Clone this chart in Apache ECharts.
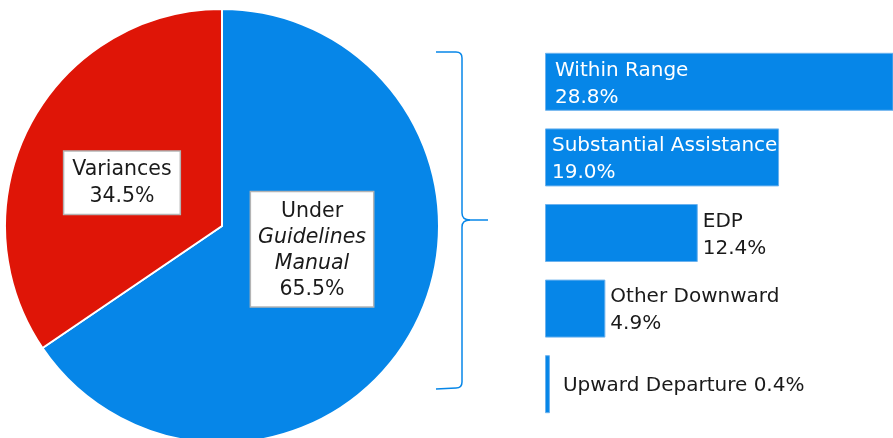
<!DOCTYPE html>
<html><head><meta charset="utf-8">
<script src="https://cdn.jsdelivr.net/npm/echarts@6/dist/echarts.min.js"></script>
<style>html,body{margin:0;padding:0;background:#fff;}#c{width:893px;height:438px;}</style>
</head><body><div id="c"></div>
<script>
const pieNames = ['Under Guidelines Manual', 'Variances'];
const pieValues = [65.5, 34.5];
const barCategories = ['Within Range', 'Substantial Assistance', 'EDP', 'Other Downward', 'Upward Departure'];
const barValues = [28.8, 19.0, 12.4, 4.9, 0.4];

const FONT = 'DejaVu Sans';
const FS = 20;
const BLUE = '#0686e8', RED = '#df1507';

const chart = echarts.init(document.getElementById('c'), null, {renderer: 'canvas'});

const boxLabel = {
  show: true, position: 'inside', color: '#1a1a1a', fontFamily: FONT, fontSize: 20.5,
  backgroundColor: '#fff', borderColor: '#b4b4b4', borderWidth: 1.5,
  align: 'center'
};

const pieData = [
  {name: pieNames[0], value: pieValues[0], itemStyle: {color: BLUE},
   label: Object.assign({}, boxLabel, {
     lineHeight: 26,
     formatter: p => 'Under\n{i|Guidelines}\n{i|Manual}\n' + p.value.toFixed(1) + '%',
     rich: {i: {fontStyle: 'italic', fontFamily: FONT, fontSize: 20.5, lineHeight: 26, color: '#1a1a1a'}},
     padding: [6, 7, 4, 7], offset: [-8.5, -29]})},
  {name: pieNames[1], value: pieValues[1], itemStyle: {color: RED},
   label: Object.assign({}, boxLabel, {
     lineHeight: 27,
     formatter: p => 'Variances\n' + p.value.toFixed(1) + '%',
     padding: [5, 8, 3, 8], offset: [-1.5, 9]})}
];

const barData = barValues.map((v, i) => {
  const name = barCategories[i];
  let label;
  if (v >= 15) {
    label = {show: true, position: 'insideLeft', distance: i === 0 ? 10 : 7, color: '#fff',
      formatter: name + '\n' + v.toFixed(1) + '%'};
  } else if (v >= 1) {
    label = {show: true, position: 'right', distance: 5, color: '#1a1a1a',
      formatter: name + '\n' + v.toFixed(1) + '%'};
  } else {
    label = {show: true, position: 'right', distance: 13, color: '#1a1a1a',
      formatter: name + ' ' + v.toFixed(1) + '%'};
  }
  label.fontFamily = FONT; label.fontSize = FS; label.lineHeight = 27; label.align = 'left';
  label.offset = [0, 2];
  return {value: v, label};
});

const braceStyle = {stroke: BLUE, lineWidth: 1.5, fill: null};
const seg = (type, shape) => ({type, silent: true, shape, style: braceStyle});

chart.setOption({
  animation: false,
  backgroundColor: '#fff',
  grid: {left: 545, right: 0, top: 44, height: 378, containLabel: false},
  xAxis: {type: 'value', min: 0, max: 28.25, show: false},
  yAxis: {type: 'category', data: barCategories, inverse: true, show: false},
  series: [
    {type: 'pie', center: [222, 226], radius: 217, startAngle: 90, clockwise: true,
     data: pieData, labelLine: {show: false},
     itemStyle: {borderColor: '#fff', borderWidth: 2},
     emphasis: {disabled: true}},
    {type: 'bar', data: barData, barWidth: 58, clip: true,
     itemStyle: {color: BLUE, borderColor: '#6cb2ee', borderWidth: 1}}
  ],
  graphic: [
    seg('line', {x1: 436, y1: 52, x2: 456, y2: 52}),
    seg('bezierCurve', {x1: 456, y1: 52, x2: 462, y2: 58, cpx1: 462, cpy1: 52}),
    seg('line', {x1: 462, y1: 58, x2: 462, y2: 213}),
    seg('bezierCurve', {x1: 462, y1: 213, x2: 470, y2: 220, cpx1: 462, cpy1: 220}),
    seg('line', {x1: 470, y1: 220, x2: 488, y2: 220}),
    seg('bezierCurve', {x1: 470, y1: 220, x2: 462, y2: 227, cpx1: 462, cpy1: 220}),
    seg('line', {x1: 462, y1: 227, x2: 462, y2: 382}),
    seg('bezierCurve', {x1: 462, y1: 382, x2: 456, y2: 388, cpx1: 462, cpy1: 388}),
    seg('line', {x1: 456, y1: 388, x2: 436, y2: 389})
  ]
});
</script></body></html>
